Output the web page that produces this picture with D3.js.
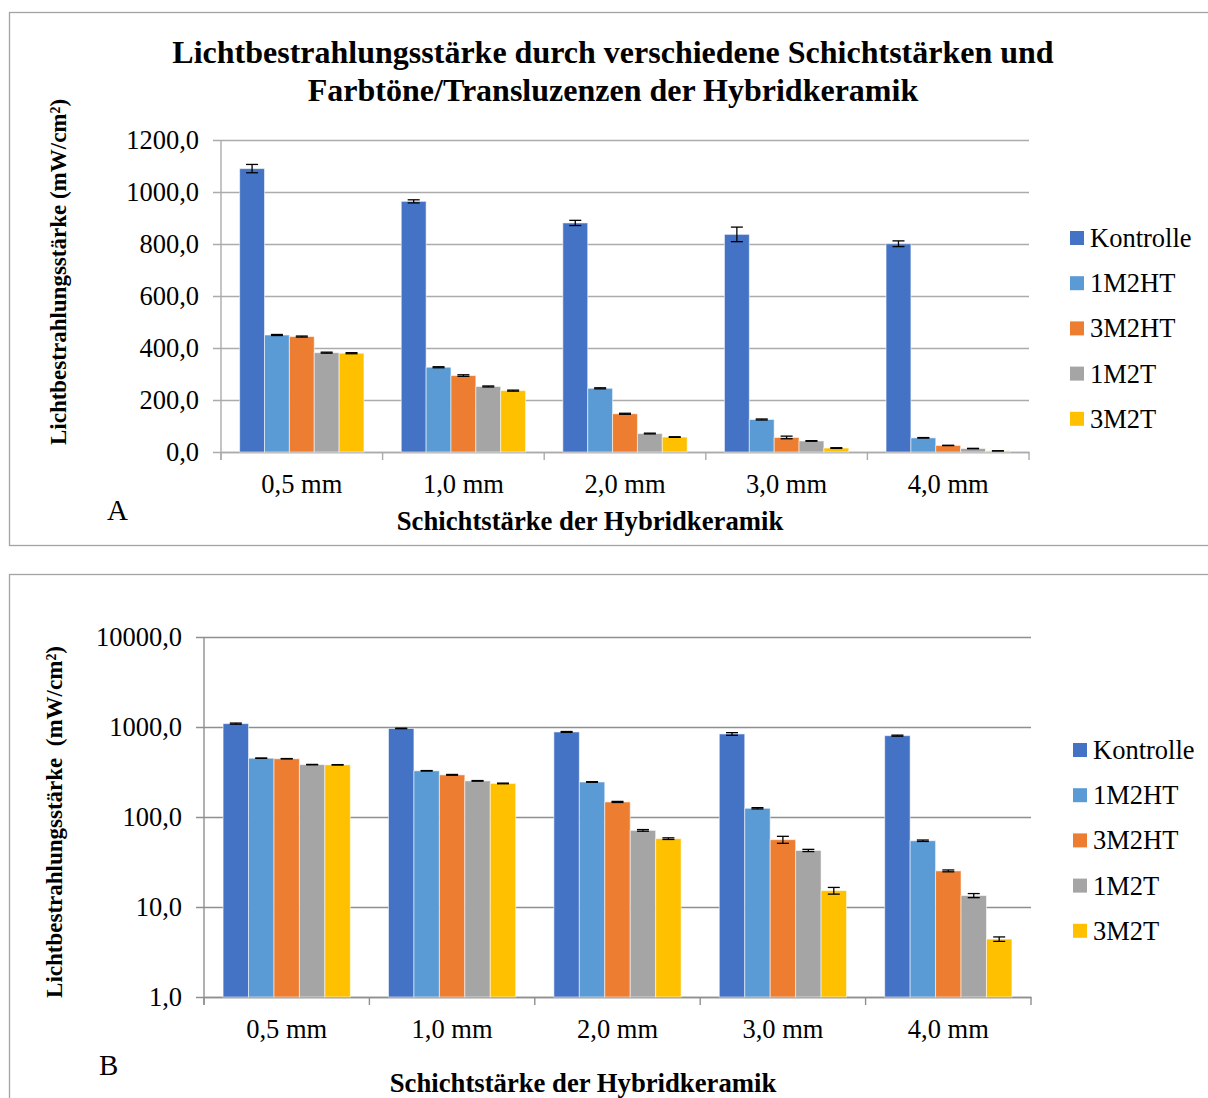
<!DOCTYPE html>
<html>
<head>
<meta charset="utf-8">
<script src="https://cdn.jsdelivr.net/npm/d3@7/dist/d3.min.js"></script>
<style>
  html, body { margin: 0; padding: 0; background: #fff; }
  svg { display: block; font-family: "Liberation Serif", "Times New Roman", serif; }
</style>
</head>
<body>
<svg id="chart" width="1208" height="1098"></svg>
<script>
// Layer thicknesses (categories) and material groups (series)
const categories = ["0,5 mm", "1,0 mm", "2,0 mm", "3,0 mm", "4,0 mm"];
const seriesNames = ["Kontrolle", "1M2HT", "3M2HT", "1M2T", "3M2T"];
const seriesColors = ["#4472C4", "#5B9BD5", "#ED7D31", "#A5A5A5", "#FFC000"];

// Mean irradiance in mW/cm² per thickness
const kontrolle = [1090, 964, 881, 837, 801];
const m1M2HT    = [450, 326, 245, 125, 54.5];
const m3M2HT    = [444, 294, 147, 56, 25.2];
const m1M2T     = [382, 252, 71, 42.5, 13.4];
const m3M2T     = [380, 236, 57.5, 15.2, 4.4];

// Standard deviations
const kontrolleErr = [16, 6, 10, 28, 11];
const m1M2HTErr    = [2, 2, 2, 2, 1];
const m3M2HTErr    = [2, 3, 2, 5, 0.6];
const m1M2TErr     = [2, 2, 1.5, 1.2, 0.7];
const m3M2TErr     = [2, 2, 1.2, 1.3, 0.25];

// Axis ticks
const linearTicks = [0, 200, 400, 600, 800, 1000, 1200];
const logTicks = [1, 10, 100, 1000, 10000];

const titleLines = [
  "Lichtbestrahlungsstärke durch verschiedene Schichtstärken und",
  "Farbtöne/Transluzenzen der Hybridkeramik"
];

const means = [kontrolle, m1M2HT, m3M2HT, m1M2T, m3M2T];
const errs = [kontrolleErr, m1M2HTErr, m3M2HTErr, m1M2TErr, m3M2TErr];
const rows = [];
categories.forEach((c, ci) => {
  seriesNames.forEach((s, si) => {
    rows.push({ cat: c, series: s, si, value: means[si][ci], err: errs[si][ci] });
  });
});

const fmt = v => d3.format(".1f")(v).replace(".", ",");
const svg = d3.select("#chart");
const LABEL_SIZE = 26.5;

function drawPanel(opt) {
  const g = svg.append("g");

  // outer frame
  g.append("rect")
    .attr("x", 9.5).attr("y", opt.frameTop + 0.5)
    .attr("width", 1220).attr("height", opt.frameHeight)
    .attr("fill", "#fff").attr("stroke", "#a3a3a3").attr("stroke-width", 1.3);

  const x0 = d3.scaleBand().domain(categories).range([opt.left, opt.right]).paddingInner(0).paddingOuter(0);
  const groupW = x0.bandwidth() * 5 / 6.5;
  const x1 = d3.scaleBand().domain(seriesNames).range([0, groupW]);
  const groupOff = (x0.bandwidth() - groupW) / 2;

  const y = opt.log
    ? d3.scaleLog().domain([1, 10000]).range([opt.bottom, opt.top])
    : d3.scaleLinear().domain([0, 1200]).range([opt.bottom, opt.top]);

  // gridlines with outward tick marks
  const yAxis = d3.axisLeft(y).tickValues(opt.ticks).tickFormat(fmt)
    .tickSize(-(opt.right - opt.left)).tickPadding(22);
  const ya = g.append("g").attr("transform", `translate(${opt.left},0)`).call(yAxis);
  ya.select(".domain").remove();
  ya.selectAll(".tick line")
    .attr("x1", -8)
    .attr("stroke", opt.gridColor).attr("stroke-width", 1.4);
  ya.selectAll(".tick text")
    .attr("font-size", LABEL_SIZE).attr("fill", "#000")
    .attr("font-family", "Liberation Serif, Times New Roman, serif");

  // vertical axis line
  g.append("line")
    .attr("x1", opt.left).attr("x2", opt.left)
    .attr("y1", opt.top).attr("y2", opt.bottom + 8)
    .attr("stroke", opt.gridColor).attr("stroke-width", 1.4);

  // category axis
  const xa = g.append("g").attr("transform", `translate(0,${opt.bottom})`)
    .call(d3.axisBottom(x0).tickSize(0).tickPadding(22));
  xa.select(".domain").attr("stroke", opt.gridColor).attr("stroke-width", 1.4);
  xa.selectAll(".tick text")
    .attr("font-size", LABEL_SIZE).attr("fill", "#000")
    .attr("font-family", "Liberation Serif, Times New Roman, serif");
  const boundaries = categories.map(c => x0(c)).concat([opt.right]);
  g.selectAll(".cat-sep").data(boundaries).join("line")
    .attr("x1", d => d).attr("x2", d => d)
    .attr("y1", opt.bottom).attr("y2", opt.bottom + 8)
    .attr("stroke", opt.gridColor).attr("stroke-width", 1.4);

  // bars
  const base = opt.log ? y(1) : y(0);
  g.append("g").selectAll("rect").data(rows).join("rect")
    .attr("x", d => x0(d.cat) + groupOff + x1(d.series))
    .attr("width", x1.bandwidth())
    .attr("y", d => y(d.value))
    .attr("height", d => base - y(d.value))
    .attr("fill", d => seriesColors[d.si])
    .attr("stroke", "rgba(255,255,255,0.55)").attr("stroke-width", 1);

  // error bars
  const eb = g.append("g").selectAll("g").data(rows).join("g")
    .attr("transform", d => `translate(${x0(d.cat) + groupOff + x1(d.series) + x1.bandwidth() / 2},0)`);
  eb.append("line")
    .attr("y1", d => y(d.value + d.err)).attr("y2", d => y(Math.max(d.value - d.err, opt.log ? 1 : 0)))
    .attr("stroke", "#000").attr("stroke-width", 1.3);
  eb.append("line").attr("x1", -6).attr("x2", 6)
    .attr("y1", d => y(d.value + d.err)).attr("y2", d => y(d.value + d.err))
    .attr("stroke", "#000").attr("stroke-width", 1.3);
  eb.append("line").attr("x1", -6).attr("x2", 6)
    .attr("y1", d => y(d.value - d.err)).attr("y2", d => y(d.value - d.err))
    .attr("stroke", "#000").attr("stroke-width", 1.3);

  // y axis title
  g.append("text")
    .attr("transform", `translate(${opt.yTitleX},${opt.yTitleY}) rotate(-90)`)
    .attr("text-anchor", "middle").attr("font-weight", "bold").attr("font-size", 23)
    .attr("xml:space", "preserve").style("white-space", "pre")
    .text(opt.yTitle);

  // x axis title
  g.append("text")
    .attr("x", opt.xTitleX).attr("y", opt.xTitleY)
    .attr("text-anchor", "middle").attr("font-weight", "bold").attr("font-size", 26.7)
    .text("Schichtstärke der Hybridkeramik");

  // panel letter
  g.append("text")
    .attr("x", opt.letterX).attr("y", opt.letterY)
    .attr("font-size", 29).text(opt.letter);

  // legend
  const lg = g.append("g").selectAll("g").data(seriesNames).join("g")
    .attr("transform", (d, i) => `translate(${opt.legendX},${opt.legendY + i * 45.2})`);
  lg.append("rect").attr("x", 0).attr("y", -7).attr("width", 14).attr("height", 14)
    .attr("fill", (d, i) => seriesColors[i]);
  lg.append("text").attr("x", 20).attr("y", 9).attr("font-size", LABEL_SIZE).text(d => d);
}

drawPanel({
  frameTop: 12, frameHeight: 533,
  left: 221, right: 1029, top: 140, bottom: 452,
  log: false, ticks: linearTicks, gridColor: "#ababab",
  yTitle: "Lichtbestrahlungsstärke (mW/cm²)", yTitleX: 66, yTitleY: 272,
  xTitleX: 590, xTitleY: 530,
  letter: "A", letterX: 107, letterY: 520,
  legendX: 1070, legendY: 238
});

drawPanel({
  frameTop: 574, frameHeight: 600,
  left: 204, right: 1031, top: 637, bottom: 997,
  log: true, ticks: logTicks, gridColor: "#8f8f8f",
  yTitle: "Lichtbestrahlungsstärke  (mW/cm²)", yTitleX: 62, yTitleY: 822,
  xTitleX: 583, xTitleY: 1092,
  letter: "B", letterX: 99, letterY: 1075,
  legendX: 1073, legendY: 750
});

// chart title (top panel)
svg.append("g").selectAll("text").data(titleLines).join("text")
  .attr("x", 613).attr("y", (d, i) => 63 + i * 38)
  .attr("text-anchor", "middle").attr("font-weight", "bold").attr("font-size", 32)
  .text(d => d);
</script>
</body>
</html>
